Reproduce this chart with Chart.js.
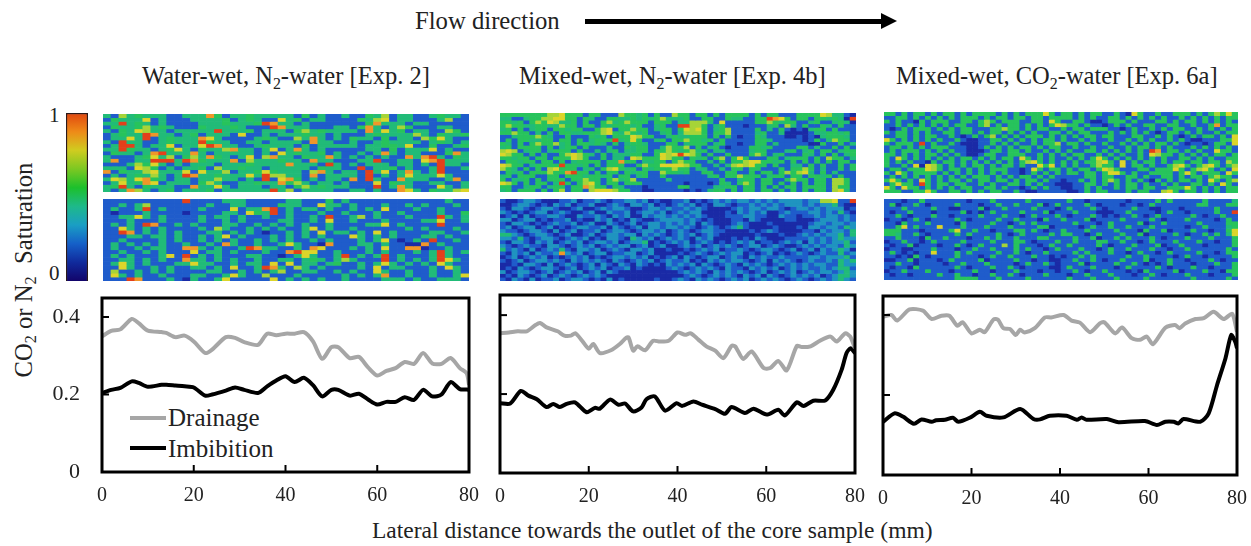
<!DOCTYPE html>
<html>
<head>
<meta charset="utf-8">
<title>Saturation profiles</title>
<script src="https://cdn.jsdelivr.net/npm/chart.js"></script>
<style>
  body { margin: 0; background: #fff; width: 1251px; height: 546px; overflow: hidden; position: relative; }
  canvas { position: absolute; }
  canvas.map { filter: blur(0.7px); }
  .t { position: absolute; font-family: "Liberation Serif", serif; color: #222; white-space: nowrap; line-height: 1; }
  .t sub { font-size: 0.65em; line-height: 0; vertical-align: -0.3em; }
  .key { position: absolute; height: 4px; width: 36px; left: 130px; }
</style>
</head>
<body>
<div class="t" style="left:415px;top:9px;font-size:24.7px">Flow direction</div>
<svg style="position:absolute;left:580px;top:10px" width="325" height="24"><path d="M5 9 H301 V3 L317 11 L301 19 V14 H5 Z" fill="#000"/></svg>
<div class="t" style="left:142px;top:64px;font-size:24.5px">Water-wet, N<sub>2</sub>-water [Exp. 2]</div>
<div class="t" style="left:519px;top:64px;font-size:24.5px">Mixed-wet, N<sub>2</sub>-water [Exp. 4b]</div>
<div class="t" style="left:896px;top:64px;font-size:24.5px">Mixed-wet, CO<sub>2</sub>-water [Exp. 6a]</div>
<div class="t" style="left:49px;top:105px;font-size:21px">1</div>
<div class="t" style="left:49px;top:263px;font-size:21px">0</div>
<div class="t" style="left:24px;top:270px;font-size:24.7px;transform:translate(-50%,-50%) rotate(-90deg)">CO<sub>2</sub> or N<sub>2</sub>&nbsp; Saturation</div>
<div class="t" style="left:372px;top:519px;font-size:23.5px">Lateral distance towards the outlet of the core sample (mm)</div>
<div class="key" style="top:416px;background:#a6a6a6"></div>
<div class="key" style="top:446px;background:#000"></div>
<div class="t" style="left:168px;top:405px;font-size:25px">Drainage</div>
<div class="t" style="left:168px;top:436px;font-size:25px">Imbibition</div>

<script>
// line profiles
var dist1 = [0,2,4,6.5,8,10,13,14,16,18,20,22.5,24,27,29,31,34,36,38,40,42,44,46,48,50,51.5,54,56,58,60,62,64,66,68,70,72,74,76,78,79.5,80];
var drainage1 = [.35,.364,.368,.395,.384,.365,.361,.359,.348,.352,.337,.307,.316,.348,.346,.335,.328,.357,.353,.357,.357,.361,.337,.292,.322,.322,.294,.297,.27,.249,.261,.268,.284,.279,.307,.28,.279,.294,.268,.255,.225];
var imbibition1 = [.204,.212,.217,.234,.23,.22,.225,.225,.223,.221,.218,.197,.2,.21,.218,.212,.204,.221,.236,.247,.232,.243,.224,.195,.212,.212,.197,.202,.187,.174,.181,.181,.193,.186,.212,.195,.2,.232,.214,.213,.212];

var dist2d = [0,2,4,6,8,9,10.5,13,14.5,16,17,18.5,20,21,22.5,25,27,28.5,29,30,31,32.7,34.5,36,38,40,41.7,43,44.7,46.5,48.5,50.3,52.2,53,54.8,56.7,59.4,60.9,62.7,64.6,66.9,68,70,71.8,74.4,75.9,77.8,78.9,80];
var drainage2 = [.354,.356,.359,.359,.375,.38,.369,.359,.348,.348,.354,.335,.315,.327,.304,.311,.327,.343,.343,.31,.321,.311,.335,.333,.335,.356,.35,.354,.338,.321,.31,.291,.322,.321,.289,.308,.266,.266,.284,.26,.322,.319,.321,.333,.346,.333,.354,.346,.316];
var dist2i = [0,2.3,4.7,6.4,8.3,10.5,12,13.5,15,16.9,19.5,21.4,22.5,24.8,26.7,28.2,30,31.9,33,34.9,37.2,39.8,41,43.6,45.5,48.5,50.7,52.2,55.2,57.1,60.1,62.7,64.2,66.9,68.4,70.6,73.3,75.1,77,78.1,79,80];
var imbibition2 = [.177,.176,.208,.196,.187,.167,.175,.167,.175,.179,.154,.165,.163,.186,.173,.176,.156,.166,.187,.194,.158,.177,.17,.181,.173,.162,.15,.167,.152,.163,.148,.16,.146,.179,.17,.183,.184,.211,.262,.304,.316,.304];

var dist3d = [0,1.9,3.2,6,9,11,13.2,15,16.8,18,20,21.9,23,25,26,27.2,28.7,30,31,32,34.3,36.6,38,40.8,42.6,44.5,46.8,49,50,52.5,54,56.2,58.1,59.6,61,63.8,66,67,68.3,70.6,72.5,74.7,77,78.9,80];
var drainage3 = [.396,.4,.386,.414,.411,.39,.398,.398,.373,.382,.354,.363,.357,.389,.388,.367,.365,.35,.363,.356,.367,.394,.394,.4,.386,.381,.357,.379,.382,.354,.369,.342,.338,.346,.327,.368,.375,.367,.379,.39,.392,.408,.39,.403,.358];
var dist3i = [0,2.6,4.5,7,8.7,11,12,14,15.8,17,19.6,21.9,23.4,27.2,31,34,35.5,37.7,41.5,43.8,44.9,46,50.6,53.2,59.2,61.9,63.8,65.7,66.8,67.9,71.7,73.6,75.5,77.4,78.7,79.6,80];
var imbibition3 = [.133,.154,.146,.128,.139,.133,.137,.138,.143,.133,.143,.158,.148,.144,.165,.14,.139,.148,.148,.138,.144,.138,.14,.132,.135,.125,.133,.133,.129,.14,.133,.154,.225,.292,.35,.333,.317];

// saturation maps, one digit per cell (colour level), top row first
var mapWaterDrainage = [
"3153433311 3337413343 3333141311 3114351331 134331",
"1433361311 1333341343 1163413311 1143561331 113511",
"3383431311 1133343334 8733131111 1114733313 311111",
"1433453431 1143334311 1873331113 3147313541 113311",
"3143653313 3333833341 3331453433 3317363413 311541",
"1343387331 3413331611 3133343313 1113433335 314334",
"1336381343 3376311113 4311537313 1433141331 546311",
"3183311343 3384331133 1333317331 1311343333 134313",
"1388313361 3368733113 4333141333 3313344361 141134",
"3384331346 3143357331 3613731311 1113314133 361311",
"1433137833 3731333331 3163433413 1131373133 111473",
"3111346351 4537431361 5733143373 1313131173 783143",
"3711338883 8743337153 3343317331 1133811331 678333",
"1113546313 1333133343 3337333183 1313331331 318331",
"3331654131 3341533433 1333331433 1181334131 138113",
"7143356333 6163351334 6433315731 3318361373 138111",
"1313435313 8733433363 8553317133 3318131363 336311",
"3653674313 3133533131 8167413133 1718311733 311371",
"1363476133 3145311334 3374531331 3111614331 133113",
"3483143331 1733631333 1331453433 3111813731 116313",
"3137531341 3334133333 3835133331 1331311763 143356"];
var mapWaterImbibition = [
"1111111111 8111133311 1113311141 3111111111 111311",
"1131351111 1113113311 1143311633 1311131131 311131",
"1311381311 1131116133 7813133131 1313161113 113111",
"1011131111 0111133164 3813111311 3111311311 113114",
"1133631311 1131331311 3113113181 1351311131 118313",
"1113111311 1131131311 1133113161 1311131111 336113",
"1313187113 1311133113 1313131131 1113361311 118111",
"1163131311 1131531131 3131136131 1311111131 311131",
"1187131313 1113313131 0113131613 3131613111 133113",
"1113313313 1131361311 1313131311 1631313111 331311",
"1131111313 1131313113 1313113131 1131361013 181131",
"1313131311 3113173113 1136311071 1133131100 713111",
"1311313311 7731311387 3311317611 1313161177 011311",
"1131131311 1613313111 3117866113 1113131113 138313",
"1313111361 8131311133 1101363113 8131381311 138311",
"1133131311 7331313113 1133134313 5311181313 138631",
"1363131113 3633113133 1616133134 1131363131 316311",
"1163113131 1331316113 8731531311 1131613311 131631",
"1511313131 1113311313 1351133113 1311631131 131131",
"1631311311 1331136311 5111311111 3131371131 131136",
"1118711131 0311361111 1613131311 3111133313 113331"];
var mapMixedN2Drainage = [
"4444444455 6444144111 5443414115 4414414144 4414144111 4444653310",
"3311344556 6441431144 3343434533 3411441143 3114487641 4414434308",
"4434145465 3341411453 4544414441 3355531611 1114454344 1134113430",
"4544334433 5441441434 4434113411 8855413411 1011134153 1411431411",
"3414134414 4344114561 4454413441 4656413451 1114131410 1034414111",
"4454413141 4433444564 3543411341 3555414451 1113411300 0013344341",
"1134445431 1411143414 4465441134 3344414141 0114311100 1010344431",
"1414433441 4414134448 3464113414 4544341411 1114431111 1014135441",
"4314145445 3414434314 1344311144 1344413411 0114413111 1100411413",
"3414444141 3441411131 1434411354 4514134101 1144341111 4413114141",
"5651344134 4414113134 1334414454 3453413311 1134411134 1341441344",
"6544141411 4565431413 3344114656 8654141141 1145413411 1431414134",
"4434414414 4465411413 3165444654 4143414514 6411144134 4414154413",
"1443441441 4134444144 7441334414 5441131414 4566443414 1414141441",
"6544134444 8443414144 4114544666 6544113135 6564414113 3141411414",
"5431414156 4441341456 4341434445 4413311314 4144111414 4541311414",
"1434144454 4784414144 1434411544 3411441144 1141441454 5631413111",
"3414441144 1444344341 4413411411 1111134144 5444134414 4144341411",
"4133414144 4144544145 3451111131 1111111411 3441441145 4414415541",
"6541414413 8414564144 1444111111 1011101431 4541441414 1414415541",
"4411344134 4144754414 3111011111 4411113344 1441414144 1444415441",
"3414441414 5144156665 4411001111 1010134414 1441441414 1414415631"];
var mapMixedN2Imbibition = [
"1001221000 1120112101 1221201001 1201012121 2212121222 2122556118",
"0012210102 1201120012 1022120101 2120102210 1121212122 2121223100",
"1022101221 0012001212 2100122121 1212100001 2122122101 2212122201",
"2101012201 2100120021 1201221201 2122000010 2121200121 1122121310",
"0120201122 1002112102 1200212212 1212100011 1221100211 0112122121",
"2201220101 1201002120 1021001222 2121010001 1021000011 0001222121",
"1022101012 1120120021 0120122121 2120210001 2100010000 0012212212",
"1201220120 1012211202 1012022122 1210121012 3100001000 1022122132",
"2110122102 0120112012 2101221201 2101221100 0010121000 0110212213",
"3321012210 1200120122 1220212101 2120121000 0001000100 1212122313",
"2213101221 0121201022 1032120121 2102120001 0102100011 1121212322",
"1022102120 1212012212 0122301012 1201210101 2120110121 2021212231",
"2101211022 1012120121 2201201200 1212012121 0122012100 1212122132",
"3121020121 3102212012 1022120010 0101212011 2101221012 0120212320",
"1021202112 7212012201 1220120000 1012101212 2010120101 2101211312",
"0120121201 0121201012 2121201012 0210122012 1021211211 1122122231",
"1012012212 1021212102 1012120121 1201021212 2101202121 0121121323",
"0010221020 1210120210 2102101021 2120210121 0212101212 1212211322",
"0102101221 0120121201 1201000012 1012121021 1021212012 1211212331",
"2012210120 1212012021 0000000000 1212102121 2101201212 0121221232",
"0102101201 2101212100 0000000000 0121012121 0212021012 1212012332",
"1021020112 0122101020 1000001001 2102121012 1201212101 2101212321"];
var mapMixedCO2Drainage = [
"4414144141 4414144441 4141444641 4414144114 1064114114 4414145464",
"1144141414 1414441414 4144144144 4414141144 1414141411 4141414144",
"4141104144 4114414541 4441144164 1144100144 4141114414 1441414141",
"1141414141 4144114514 1441414146 5441411014 1411441144 1141147144",
"1014144414 1414411144 5441414411 4144144411 0141141414 4114141414",
"4144141411 4414414144 1414141144 1414411141 4141410144 1414114144",
"1144141441 1410141451 4141444141 4141441441 1144114141 0141441416",
"6414141414 1141001144 1414141441 4114141141 1414141141 4100111446",
"4144418141 1410001141 4141141445 1441411411 4141414414 1011014416",
"1441414144 4111001414 1414414144 1141141141 1414414141 1141414141",
"1414441414 1411000144 1441411414 1411441414 1414187144 1414116441",
"4414141441 4141001441 1444114141 4144114141 4114165441 4141414414",
"4164141414 1414414141 4416414141 1414146414 1414141411 4414141144",
"4141411041 4414141414 1414564141 4141445641 6141441414 4144144154",
"4114160654 1414144141 4414116461 4141145441 6144141145 6414564145",
"1441444654 1441414144 4110164144 1414414654 1114414446 4145641416",
"4164144441 4141414141 4110141414 1441441466 4141144441 4641444164",
"1414141414 1414144414 1414414141 1111441441 1441411441 4144145441",
"4641416414 1441414414 4141441411 0114141454 1414104141 4414164145",
"1464418414 4144114141 1441414110 0011441414 1441411414 1144141641",
"6416441414 1414411441 4110141411 0011414114 1441441144 4641414144",
"4441144641 1441414144 1141001111 1001414411 1414411564 1441414144"];
var mapMixedCO2Imbibition = [
"1110114111 1111011141 1111411111 1411011111 1011114141 1111411113",
"1401141011 1141110114 1141114014 1111410111 0110141111 1114411144",
"1114111141 1001114011 4111141110 1411141011 1141100111 0111114111",
"1011411101 1114010141 1114111401 1141110001 1411110141 1011114118",
"1141011141 1011114111 4110141114 1011141010 1141014111 1141011411",
"0110141011 1141011114 1141110411 4111401111 4111141011 1411110141",
"1104111411 1104111141 1014141111 1141110141 1114011411 1114111144",
"1146141116 1114111411 1411114401 1110141141 1411141111 1011411134",
"4441110111 1461141101 1144141011 4111411114 1110411401 1141101146",
"4431141011 1141411114 1014111141 4411014111 4114011114 1011414136",
"1141110411 4111011414 1141114411 1141140114 1411141011 1411141114",
"0114110141 1114111141 1144101114 1141114411 4110141114 1114110114",
"1011401110 1141014111 5141110141 1411114101 1141114011 4111011114",
"0110011141 1101141141 1141411014 1114110141 1411141101 1411111141",
"1410101161 1141411114 1141011411 1141411141 1014110141 1114110144",
"1101041011 1141110141 1411141101 0114141111 1411411110 1411011114",
"0011401110 1411114011 1141101100 1141141011 4111401141 1011141011",
"1141101111 0114111411 1101411410 1114011114 1141010141 1101114114",
"1011041111 1141011141 1410111100 1411141110 1411114101 1141101114",
"0114111411 1011141101 1141110110 1141011411 1010411114 0111411044",
"1011011114 1141101141 1410111411 1011411141 1101141011 1411101114",
"1111111111 1144441114 1111411111 1411141114 1111411111 1141111141"];

var levelColors = ['#1a2aa6','#1f5ccb','#1f94c0','#21bb78','#27c35c','#a6d438','#dcd52a','#f0962a','#e4401a'];
var colorbarColors = ['#e0460f','#ee8a18','#d0cc20','#7cc822','#1cc02c','#1eb98a','#1a9ec4','#1560c8','#102a9c','#12046a'];
var seriesColors = { drainage: '#a6a6a6', imbibition: '#000000' };

function addCanvas(left, top, width, height, cls) {
    var c = document.createElement('canvas');
    c.width = width;
    c.height = height;
    c.style.left = left + 'px';
    c.style.top = top + 'px';
    c.style.width = width + 'px';
    c.style.height = height + 'px';
    if (cls) c.className = cls;
    document.body.appendChild(c);
    return c;
}

// a map is a stacked bar chart: each row is a dataset, each column a category
function drawMap(rows, left, top, width, height) {
    var cells = rows.map(function(r) { return r.split(' ').join('').split('').map(Number); });
    var labels = cells[0].map(function(v, i) { return i; });
    var datasets = cells.map(function(row) {
        return {
            data: row.map(function() { return 1; }),
            backgroundColor: row.map(function(v) { return levelColors[v] || levelColors[1]; }),
            borderWidth: 0,
            barPercentage: 1,
            categoryPercentage: 1
        };
    });
    new Chart(addCanvas(left, top, width, height, 'map'), {
        type: 'bar',
        data: { labels: labels, datasets: datasets },
        options: {
            responsive: false,
            animation: false,
            layout: { padding: 0, autoPadding: false },
            plugins: { legend: { display: false }, tooltip: { enabled: false } },
            scales: {
                x: { display: false, stacked: true },
                y: { display: false, stacked: true, reverse: true, min: 0, max: rows.length }
            }
        }
    });
}

drawMap(mapWaterDrainage, 103, 114, 366, 78);
drawMap(mapWaterImbibition, 103, 199, 366, 82);
drawMap(mapMixedN2Drainage, 500, 113, 356, 79);
drawMap(mapMixedN2Imbibition, 500, 199, 356, 82);
drawMap(mapMixedCO2Drainage, 884, 112, 354, 81);
drawMap(mapMixedCO2Imbibition, 884, 199, 354, 81);

// colour bar
new Chart(addCanvas(64, 111, 26, 172), {
    type: 'bar',
    data: {
        labels: ['saturation'],
        datasets: [{
            data: [1],
            barPercentage: 1,
            categoryPercentage: 1,
            borderWidth: 1.5,
            borderColor: '#2b1a1a',
            backgroundColor: function(ctx) {
                var area = ctx.chart.chartArea;
                if (!area) return colorbarColors[0];
                var g = ctx.chart.ctx.createLinearGradient(0, area.top, 0, area.bottom);
                colorbarColors.forEach(function(col, i) { g.addColorStop(i / (colorbarColors.length - 1), col); });
                return g;
            }
        }]
    },
    options: {
        responsive: false,
        animation: false,
        layout: { padding: 2, autoPadding: false },
        plugins: { legend: { display: false }, tooltip: { enabled: false } },
        scales: { x: { display: false }, y: { display: false, min: 0, max: 1 } }
    }
});

// frame and inward tick marks
var framePlugin = {
    id: 'frame',
    afterDatasetsDraw: function(chart) {
        var a = chart.chartArea, c = chart.ctx;
        c.save();
        c.strokeStyle = '#000';
        c.lineWidth = 2;
        chart.scales.x.ticks.forEach(function(t) {
            if (t.value <= 0 || t.value >= 80) return;
            var px = chart.scales.x.getPixelForValue(t.value);
            c.beginPath(); c.moveTo(px, a.bottom); c.lineTo(px, a.bottom - 7); c.stroke();
        });
        chart.scales.y.ticks.forEach(function(t) {
            if (t.value <= 0) return;
            var py = chart.scales.y.getPixelForValue(t.value);
            c.beginPath(); c.moveTo(a.left, py); c.lineTo(a.left + 7, py); c.stroke();
        });
        c.lineWidth = 3;
        c.strokeRect(a.left, a.top, a.right - a.left, a.bottom - a.top);
        c.restore();
    }
};

function pairs(xs, ys) {
    return xs.map(function(x, i) { return { x: x, y: ys[i] }; });
}

function noPadding(s) {
    s.paddingLeft = 0;
    s.paddingRight = 0;
    s.paddingTop = 0;
    s.paddingBottom = 0;
}

function drawProfile(f, series, showYLabels, yMax) {
    var yWidth = showYLabels ? 52 : 15;
    var xHeight = 50;
    var canvasLeft = f.left - yWidth, canvasTop = f.top - 13;
    var canvasW = f.right - canvasLeft + 14, canvasH = f.bottom - canvasTop + xHeight;
    new Chart(addCanvas(canvasLeft, canvasTop, canvasW, canvasH), {
        type: 'line',
        data: {
            datasets: series.map(function(s) {
                return {
                    label: s.label,
                    data: pairs(s.x, s.y),
                    borderColor: s.color,
                    borderWidth: 4,
                    pointRadius: 0,
                    tension: 0.25,
                    borderJoinStyle: 'round'
                };
            })
        },
        options: {
            responsive: false,
            animation: false,
            layout: { padding: { top: 13, right: 14, left: 0, bottom: 0 }, autoPadding: false },
            plugins: { legend: { display: false }, tooltip: { enabled: false } },
            scales: {
                x: {
                    type: 'linear', min: 0, max: 80,
                    afterFit: function(s) { s.height = xHeight; noPadding(s); },
                    grid: { display: false, drawTicks: false },
                    border: { display: false },
                    ticks: { stepSize: 20, padding: 12, maxRotation: 0, color: '#222', font: { family: 'Liberation Serif', size: 20 } }
                },
                y: {
                    min: 0, max: yMax,
                    afterFit: function(s) { s.width = yWidth; noPadding(s); },
                    afterBuildTicks: function(s) {
                        s.ticks = [0, 0.2, 0.4].map(function(v) { return { value: v }; });
                    },
                    grid: { display: false, drawTicks: false },
                    border: { display: false },
                    ticks: {
                        padding: 22,
                        color: '#222',
                        font: { family: 'Liberation Serif', size: 22 },
                        callback: function(v) { return showYLabels ? String(v) : ''; }
                    }
                }
            }
        },
        plugins: [framePlugin]
    });
}

drawProfile({ left: 102, right: 469, top: 298, bottom: 472 }, [
    { label: 'Drainage', x: dist1, y: drainage1, color: seriesColors.drainage },
    { label: 'Imbibition', x: dist1, y: imbibition1, color: seriesColors.imbibition }
], true, 0.449);
drawProfile({ left: 500, right: 855, top: 295, bottom: 473 }, [
    { label: 'Drainage', x: dist2d, y: drainage2, color: seriesColors.drainage },
    { label: 'Imbibition', x: dist2i, y: imbibition2, color: seriesColors.imbibition }
], false, 0.451);
drawProfile({ left: 883, right: 1237, top: 296, bottom: 475 }, [
    { label: 'Drainage', x: dist3d, y: drainage3, color: seriesColors.drainage },
    { label: 'Imbibition', x: dist3i, y: imbibition3, color: seriesColors.imbibition }
], false, 0.4475);
</script>
</body>
</html>
